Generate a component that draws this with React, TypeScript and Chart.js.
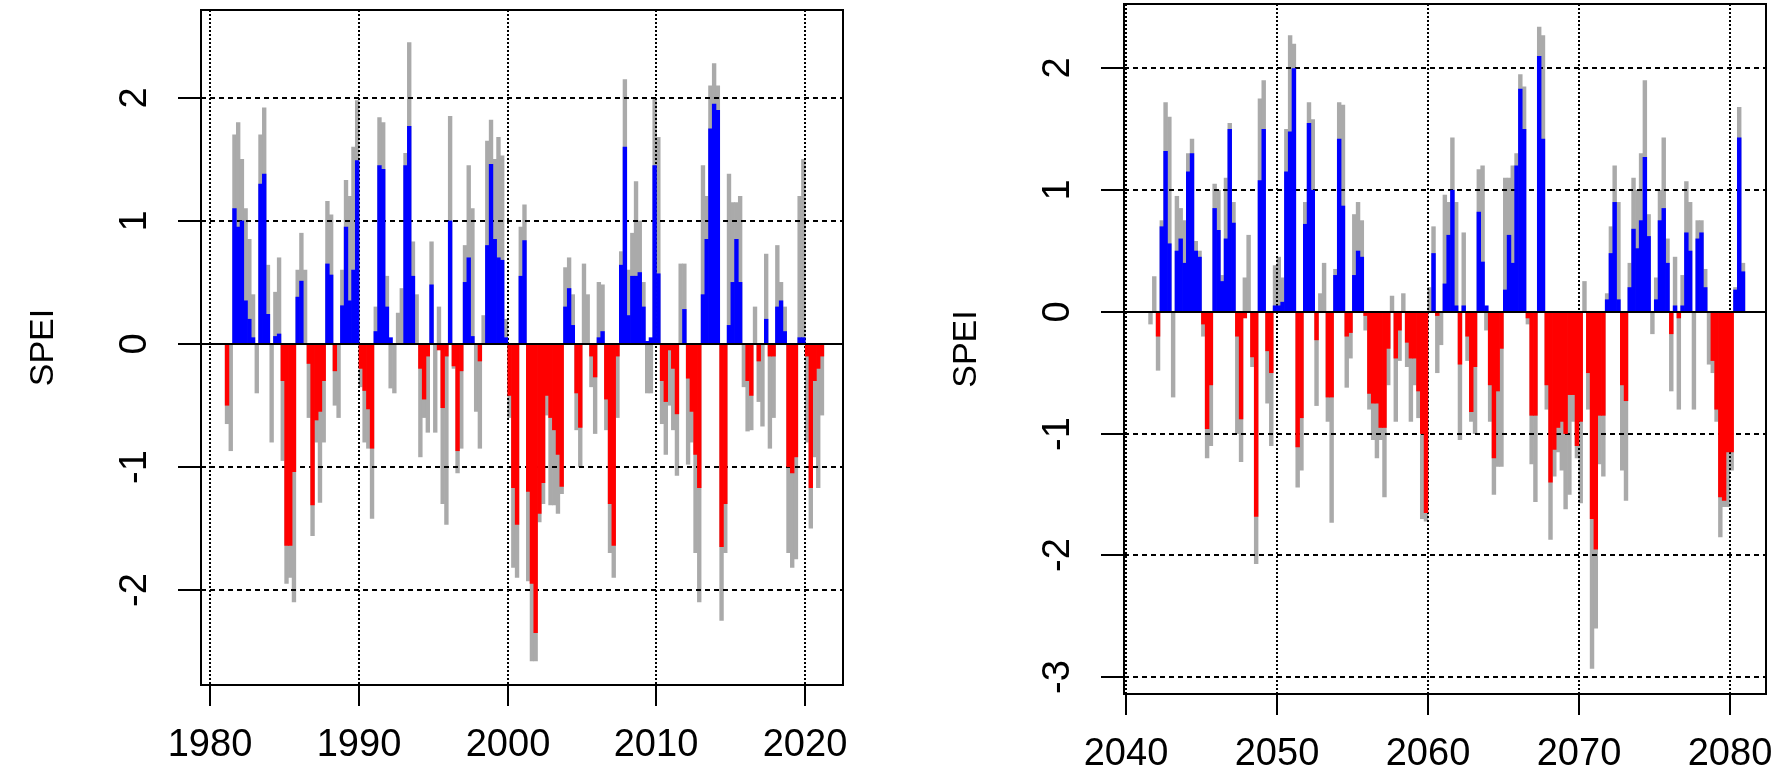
import React, { useEffect, useRef } from "react";
import { Chart, registerables } from "chart.js";

Chart.register(...registerables);

// ---------- data (quarterly steps) ----------
// Left panel: 1981.0 onwards, one value every quarter year
const leftStart = 1981.0;
const leftGray = [
  -0.65, -0.87, 1.7, 1.8, 1.5, 1.1, 0.85, 0.4, -0.4, 1.7,
  1.92, 0.64, -0.8, 0.42, 0.7, -0.95, -1.95, -1.9, -2.1, 0.6,
  0.9, 0.6, -0.6, -1.56, -0.8, -1.29, -0.8, 1.16, 1.05, -0.5,
  -0.6, 0.6, 1.33, 1.2, 1.6, 1.98, -0.35, -0.8, -0.85, -1.42,
  0.3, 1.84, 1.8, 0.55, -0.36, -0.4, 0.25, 0.45, 1.55, 2.45,
  0.83, 0.4, -0.92, -0.6, -0.72, 0.83, -0.72, 0.3, -1.3, -1.47,
  1.85, -0.2, -1.05, -0.85, 0.8, 1.45, 1.1, -0.55, -0.85, 0.23,
  1.65, 1.82, 1.5, 1.68, 1.53, 0.2, -0.6, -1.82, -1.9, 0.95,
  1.13, -1.93, -2.58, -2.58, -1.45, -1.3, -0.58, -1.31, -1.31, -1.38,
  -1.22, 0.62, 0.7, 0.4, -0.7, -1.0, 0.65, 0.4, -0.35, -0.73,
  0.5, 0.48, -0.7, -1.7, -1.9, -0.6, 0.75, 2.15, 0.6, 0.9,
  1.32, 1.0, 0.5, -0.4, -0.4, 2.0, 1.68, -0.65, -0.9, -0.5,
  -0.7, -1.07, 0.65, 0.65, -0.98, -0.8, -1.7, -2.1, 1.45, 1.2,
  2.1, 2.28, 2.1, -2.25, -1.7, 1.38, 1.15, 1.15, 1.2, -0.35,
  -0.71, -0.7, 0.3, -0.47, -0.67, 0.73, -0.85, -0.6, 0.8, 0.5,
  0.3, -1.7, -1.82, -1.75, 1.2, 1.5, -0.8, -1.5, -0.92, -1.17,
  -0.58,
];
const leftSpei = [
  -0.5, 0, 1.1, 0.95, 1.0, 0.35, 0.2, 0.05, 0, 1.3,
  1.38, 0.24, 0, 0.06, 0.08, -0.3, -1.64, -1.64, -1.04, 0.38,
  0.51, 0, -0.16, -1.31, -0.62, -0.55, -0.3, 0.65, 0.56, -0.22,
  0, 0.31, 0.95, 0.35, 0.6, 1.49, -0.2, -0.38, -0.53, -0.85,
  0.1, 1.45, 1.42, 0.3, 0.05, 0, 0, 0, 1.45, 1.77,
  0.55, 0, -0.2, -0.45, -0.1, 0.48, 0, -0.05, -0.52, -0.1,
  1.0, -0.18, -0.87, -0.22, 0.5, 0.7, 0.06, 0, -0.14, 0,
  0.8, 1.46, 0.85, 0.7, 0.68, 0.05, -0.42, -1.17, -1.47, 0.55,
  0.84, -1.2, -1.95, -2.35, -1.38, -1.13, -0.42, -0.6, -0.7, -0.9,
  -1.16, 0.3, 0.45, 0.15, -0.4, -0.68, 0, 0, -0.1, -0.27,
  0.05, 0.1, -0.45, -1.3, -1.64, -0.1, 0.64, 1.6, 0.23, 0.55,
  0.55, 0.58, 0.3, 0.02, 0.05, 1.45, 0.57, -0.3, -0.47, -0.05,
  -0.2, -0.57, 0, 0.28, -0.28, -0.55, -0.9, -1.17, 0.4, 0.85,
  1.75, 1.95, 1.9, -1.65, -1.3, 0.15, 0.5, 0.85, 0.5, 0,
  -0.3, -0.42, 0, -0.14, 0, 0.2, -0.1, -0.1, 0.3, 0.35,
  0.1, -1.0, -1.05, -0.92, 0.05, 0.05, -0.1, -1.17, -0.3, -0.2,
  -0.1,
];

// Right panel: 2041.5 onwards, one value every quarter year
const rightStart = 2041.5;
const rightGray = [
  -0.1, 0.29, -0.48, 0.75, 1.72, 1.6, -0.7, 0.95, 0.85, 0.75,
  1.3, 1.42, 0.58, 0.5, -0.2, -1.2, -1.1, 1.05, 1.0, 0.3,
  1.1, 1.55, 0.9, -1.0, -1.23, 0.28, 0.63, -0.45, -2.07, 1.75,
  1.9, -0.75, -1.1, 0.38, 0.45, 0.28, 1.5, 2.27, 2.2, -1.44,
  -1.3, 0.9, 1.72, 1.58, -0.77, 0.15, 0.4, -0.9, -1.73, 0.35,
  1.72, 1.7, -0.62, -0.38, 0.8, 0.9, 0.75, -0.15, -0.8, -1.05,
  -1.2, -1.05, -1.52, -0.6, 0.13, -0.9, -0.4, 0.15, -0.45, -0.9,
  -0.6, -0.87, -1.7, -1.72, 0.2, 0.7, -0.5, -0.27, 0.96, 0.9,
  1.43, 0.9, -1.05, 0.65, -0.4, -0.9, -1.0, 1.17, 1.2, -0.15,
  -0.9, -1.5, -1.27, -1.27, 1.1, 1.1, 1.2, 1.3, 1.95, 1.85,
  -0.1, -1.25, -1.56, 2.34, 2.27, -0.8, -1.87, -1.35, -1.15, -1.3,
  -1.62, -1.5, -0.9, -1.2, -1.57, 0.25, -0.8, -2.93, -2.6, -1.25,
  -1.35, 0.15, 0.7, 1.2, 0.9, -1.3, -1.55, 0.4, 1.1, 1.0,
  1.3, 1.9, 0.8, -0.18, 0.28, 1.0, 1.43, 0.6, -0.65, 0.45,
  -0.8, 0.3, 1.07, 0.9, -0.8, 0.75, 0.75, 0.35, -0.43, -0.5,
  -0.9, -1.85, -1.6, -1.6, -1.3, 0.2, 1.68, 0.4,
];
const rightSpei = [
  0, 0, -0.2, 0.7, 1.32, 0.56, 0, 0.5, 0.6, 0.4,
  1.15, 1.3, 0.5, 0.45, -0.1, -0.96, -0.6, 0.85, 0.67, 0.25,
  0.6, 1.5, 0.73, -0.2, -0.88, -0.05, 0, -0.37, -1.68, 1.08,
  1.5, -0.32, -0.5, 0.05, 0.05, 0.08, 1.15, 1.48, 2.0, -1.11,
  -0.87, 0.72, 1.55, 1.0, -0.23, 0, 0, -0.7, -0.7, 0.3,
  1.42, 0.87, -0.2, -0.17, 0.3, 0.5, 0.45, -0.03, -0.67, -0.75,
  -0.75, -0.95, -0.95, -0.3, 0, -0.38, -0.15, 0, -0.25, -0.38,
  -0.38, -0.65, -1.0, -1.65, 0, 0.48, -0.03, 0, 0.23, 0.63,
  1.0, 0.05, -0.43, 0.05, -0.2, -0.82, -0.45, 0.82, 0.41, 0.05,
  -0.6, -1.2, -0.65, -0.3, 0.18, 0.63, 0.4, 1.2, 1.83, 1.5,
  -0.05, -0.85, -0.85, 2.1, 1.42, -0.6, -1.4, -1.13, -0.95, -0.9,
  -1.0, -0.68, -0.68, -1.1, -0.9, 0, -0.5, -1.7, -1.95, -0.85,
  -0.85, 0.1, 0.48, 0.9, 0.1, -0.6, -0.73, 0.2, 0.68, 0.52,
  0.75, 1.27, 0.62, 0, 0.1, 0.75, 0.85, 0.4, -0.18, 0.05,
  -0.05, 0.05, 0.65, 0.5, 0, 0.6, 0.65, 0.2, 0, -0.4,
  -0.8, -1.52, -1.55, -1.15, -1.15, 0.18, 1.43, 0.33,
];

const leftXTicks = [1980, 1990, 2000, 2010, 2020];
const rightXTicks = [2040, 2050, 2060, 2070, 2080];
const leftYTicks = [-2, -1, 0, 1, 2];
const rightYTicks = [-3, -2, -1, 0, 1, 2];
const yTitle = "SPEI";

// ---------- styling ----------
const BLUE = "#0000FF";
const RED = "#FF0000";
const GRAY = "#AAAAAA";
const FONT = '"Liberation Sans", Arial, sans-serif';
const CANVAS_W = 889;
const CANVAS_H = 768;

type PanelSpec = {
  start: number;
  gray: number[];
  spei: number[];
  xTicks: number[];
  yTicks: number[];
  xMin: number;
  xMax: number;
  yMin: number;
  yMax: number;
  pad: { left: number; right: number; top: number; bottom: number };
  offsetX: number;
};

const rPlot = {
  id: "rplot",
  afterDatasetDraw(chart: any, args: any, opts: any) {
    if (args.index !== 1) return; // after the gray dataset
    const { ctx, chartArea: a, scales } = chart;
    const x = scales.x;
    const y = scales.y;
    ctx.save();
    ctx.strokeStyle = "#000";
    ctx.lineWidth = 2;
    ctx.setLineDash([5, 4]);
    for (const t of opts.yTicks) {
      const py = Math.round(y.getPixelForValue(t));
      ctx.beginPath();
      ctx.moveTo(a.left, py);
      ctx.lineTo(a.right, py);
      ctx.stroke();
    }
    ctx.setLineDash([2, 2]);
    for (const t of opts.xTicks) {
      const px = Math.round(x.getPixelForValue(t));
      ctx.beginPath();
      ctx.moveTo(px, a.top);
      ctx.lineTo(px, a.bottom);
      ctx.stroke();
    }
    ctx.restore();
  },
  afterDatasetsDraw(chart: any) {
    const { ctx, chartArea: a, scales } = chart;
    const py = Math.round(scales.y.getPixelForValue(0));
    ctx.save();
    ctx.strokeStyle = "#000";
    ctx.lineWidth = 2;
    ctx.beginPath();
    ctx.moveTo(a.left, py);
    ctx.lineTo(a.right, py);
    ctx.stroke();
    ctx.restore();
  },
  afterDraw(chart: any, _args: any, opts: any) {
    const { ctx, chartArea: a, scales } = chart;
    const x = scales.x;
    const y = scales.y;
    ctx.save();
    ctx.strokeStyle = "#000";
    ctx.fillStyle = "#000";
    ctx.lineWidth = 2;
    ctx.strokeRect(a.left, a.top, a.right - a.left, a.bottom - a.top);
    // x ticks + labels
    ctx.font = `38px ${FONT}`;
    ctx.textAlign = "center";
    ctx.textBaseline = "alphabetic";
    for (const t of opts.xTicks) {
      const px = Math.round(x.getPixelForValue(t));
      ctx.beginPath();
      ctx.moveTo(px, a.bottom);
      ctx.lineTo(px, a.bottom + 21);
      ctx.stroke();
      ctx.fillText(String(t), px, a.bottom + 71);
    }
    // y ticks + rotated labels
    for (const t of opts.yTicks) {
      const py = Math.round(y.getPixelForValue(t));
      ctx.beginPath();
      ctx.moveTo(a.left - 23, py);
      ctx.lineTo(a.left, py);
      ctx.stroke();
      ctx.save();
      ctx.translate(a.left - 55, py);
      ctx.rotate(-Math.PI / 2);
      ctx.fillText(String(t), 0, 0);
      ctx.restore();
    }
    // axis title
    ctx.font = `34px ${FONT}`;
    ctx.save();
    ctx.translate(a.left - 148, (a.top + a.bottom) / 2);
    ctx.rotate(-Math.PI / 2);
    ctx.fillText(yTitle, 0, 0);
    ctx.restore();
    ctx.restore();
  },
};

function Panel({ spec }: { spec: PanelSpec }) {
  const ref = useRef<HTMLCanvasElement | null>(null);
  useEffect(() => {
    if (!ref.current) return;
    const pts = (vals: number[]) =>
      vals.map((v, i) => ({ x: spec.start + i * 0.25 + 0.125, y: v }));
    const chart = new Chart(ref.current, {
      type: "bar",
      data: {
        datasets: [
          {
            label: "SPEI",
            data: pts(spec.spei) as any,
            backgroundColor: spec.spei.map((v) => (v >= 0 ? BLUE : RED)),
            borderWidth: 0,
            barPercentage: 1,
            categoryPercentage: 1,
            grouped: false,
            order: 1,
          },
          {
            label: "gray",
            data: pts(spec.gray) as any,
            backgroundColor: GRAY,
            borderWidth: 0,
            barPercentage: 1,
            categoryPercentage: 1,
            grouped: false,
            order: 2,
          },
        ],
      },
      options: {
        responsive: false,
        animation: false,
        devicePixelRatio: 1,
        events: [],
        layout: { padding: spec.pad },
        scales: {
          x: {
            type: "linear",
            min: spec.xMin,
            max: spec.xMax,
            offset: false,
            display: false,
          },
          y: {
            type: "linear",
            min: spec.yMin,
            max: spec.yMax,
            display: false,
          },
        },
        plugins: {
          legend: { display: false },
          tooltip: { enabled: false },
          rplot: { xTicks: spec.xTicks, yTicks: spec.yTicks },
        } as any,
      },
      plugins: [rPlot as any],
    });
    return () => chart.destroy();
  }, [spec]);
  return (
    <canvas
      ref={ref}
      width={CANVAS_W}
      height={CANVAS_H}
      style={{
        position: "absolute",
        left: spec.offsetX,
        top: 0,
        width: CANVAS_W,
        height: CANVAS_H,
        display: "block",
      }}
    />
  );
}

const leftSpec: PanelSpec = {
  start: leftStart,
  gray: leftGray,
  spei: leftSpei,
  xTicks: leftXTicks,
  yTicks: leftYTicks,
  xMin: 1979.375,
  xMax: 2022.54,
  yMin: -2.776,
  yMax: 2.716,
  pad: { left: 201, right: 46, top: 10, bottom: 83 },
  offsetX: 0,
};

const rightSpec: PanelSpec = {
  start: rightStart,
  gray: rightGray,
  spei: rightSpei,
  xTicks: rightXTicks,
  yTicks: rightYTicks,
  xMin: 2039.87,
  xMax: 2082.4,
  yMin: -3.14,
  yMax: 2.53,
  pad: { left: 235, right: 12, top: 4, bottom: 74 },
  offsetX: 889,
};

export default function App() {
  return (
    <div
      style={{
        position: "fixed",
        left: 0,
        top: 0,
        width: 1778,
        height: 768,
        background: "#fff",
        overflow: "hidden",
      }}
    >
      <Panel spec={leftSpec} />
      <Panel spec={rightSpec} />
    </div>
  );
}
